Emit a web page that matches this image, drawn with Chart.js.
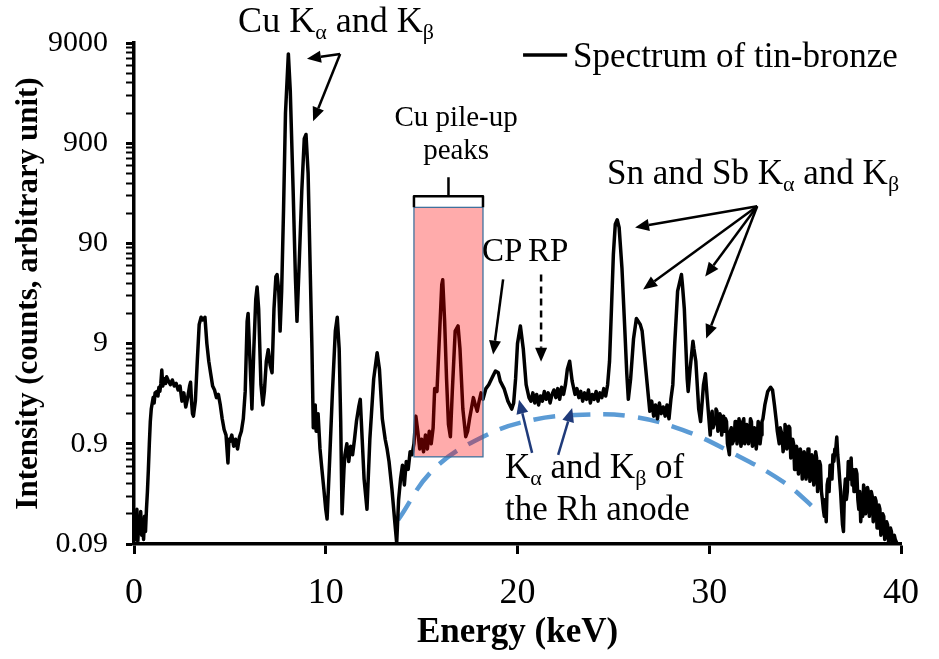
<!DOCTYPE html>
<html>
<head>
<meta charset="utf-8">
<script src="https://cdn.jsdelivr.net/npm/chart.js@4.4.1/dist/chart.umd.min.js"></script>
<style>
html,body{margin:0;padding:0;background:#fff;}
#wrap{width:939px;height:659px;}
</style>
</head>
<body>
<div id="wrap"><canvas id="c" width="939" height="659"></canvas></div>
<script>
// ---------------- DATA ----------------
// Spectrum, 0 – 29.9 keV
const energyLow = [
0.00,0.05,0.10,0.15,0.20,0.25,0.30,0.35,0.40,0.45,0.50,0.55,0.60,0.65,0.70,0.75,0.80,0.85,0.90,1.00,
1.05,1.10,1.20,1.25,1.30,1.35,1.40,1.45,1.50,1.60,1.65,1.70,1.80,1.90,2.00,2.10,2.20,2.30,2.40,2.50,
2.60,2.70,2.80,2.90,2.95,3.00,3.05,3.10,3.20,3.30,3.40,3.50,3.60,3.70,3.80,3.90,4.00,4.10,4.20,4.30,
4.40,4.50,4.60,4.70,4.80,4.90,4.95,5.00,5.10,5.20,5.30,5.40,5.50,5.60,5.70,5.80,5.90,5.95,6.05,6.15,
6.25,6.35,6.42,6.50,6.62,6.72,6.80,6.90,7.00,7.10,7.20,7.30,7.40,7.46,7.55,7.62,7.70,7.80,7.90,8.05,
8.15,8.30,8.42,8.50,8.62,8.75,8.88,8.97,9.08,9.20,9.28,9.35,9.45,9.50,9.60,9.70,9.80,9.90,10.00,10.07,
10.20,10.35,10.50,10.60,10.70,10.78,10.85,10.95,11.00,11.10,11.20,11.30,11.40,11.50,11.60,11.72,11.80,11.90,12.00,12.15,
12.30,12.50,12.68,12.80,12.95,13.10,13.20,13.30,13.45,13.60,13.70,13.80,13.90,14.00,14.10,14.20,14.30,14.40,14.50,14.60,
14.70,14.80,14.90,15.00,15.10,15.20,15.30,15.40,15.50,15.60,15.68,15.80,15.90,16.05,16.10,16.20,16.30,16.40,16.50,16.60,
16.75,16.90,17.00,17.15,17.30,17.40,17.50,17.70,17.80,17.90,18.00,18.10,18.20,18.35,18.50,18.70,18.85,19.00,19.10,19.30,
19.50,19.70,19.80,19.90,20.00,20.15,20.30,20.45,20.60,20.70,20.80,20.90,21.00,21.10,21.20,21.30,21.40,21.50,21.60,21.70,
21.80,21.90,22.00,22.10,22.20,22.30,22.40,22.50,22.60,22.72,22.85,23.00,23.10,23.20,23.30,23.40,23.50,23.60,23.70,23.80,
23.90,24.00,24.10,24.20,24.30,24.40,24.50,24.60,24.70,24.80,24.90,25.00,25.10,25.20,25.30,25.45,25.60,25.70,25.78,25.90,
26.05,26.20,26.40,26.50,26.65,26.80,26.90,27.00,27.10,27.20,27.30,27.40,27.50,27.60,27.70,27.80,27.90,28.00,28.10,28.20,
28.35,28.55,28.60,28.70,28.85,28.90,29.00,29.15,29.20,29.30,29.45,29.55,29.70,29.80,29.90
];
const countsLow = [
0.10,0.15,0.10,0.20,0.095,0.16,0.12,0.19,0.11,0.14,0.10,0.17,0.12,0.20,0.30,0.50,0.90,1.5,2.0,2.6,
2.3,2.9,3.0,2.7,3.3,3.0,3.6,4.9,3.4,4.0,3.6,4.2,3.8,3.5,3.9,3.4,3.6,3.1,3.4,2.4,
2.9,2.1,2.6,3.4,3.7,2.4,1.8,1.7,2.4,6.0,14,16.5,15.5,16.5,9.0,6.0,4.5,3.4,3.1,2.6,
2.8,2.2,1.6,1.25,1.1,0.58,1.0,0.95,1.1,0.85,1.0,0.8,1.05,1.2,1.6,3.0,15,18,6,2.0,
8,25,33,20,3.5,2.2,3.0,6.0,7.8,5.5,4.6,20,42,44,30,12,30,200,1800,7000,
3000,300,40,15,60,300,1000,1100,450,40,8,1.3,2.2,1.2,1.8,0.8,0.5,0.32,0.2,0.16,
0.6,3.0,12,16.5,8,1.5,0.18,0.5,0.7,0.9,0.6,0.85,0.7,1.0,1.5,2.1,2.5,1.0,0.4,0.2,
1.0,4.0,7.3,5.0,1.6,1.0,0.8,0.6,0.32,0.15,0.092,0.25,0.4,0.55,0.35,0.6,0.5,0.75,0.7,0.9,
1.7,1.2,0.8,1.0,0.75,1.1,0.8,1.2,0.9,1.3,3.2,3.0,8,35,39,15,4,1.4,1.06,3,
12,13.5,8,2,1.06,1.2,1.6,2.6,2.2,1.9,2.4,2.9,2.5,3.2,3.5,4.2,4.8,4.6,3.8,3.2,
2.4,2.0,2.3,4.0,9,13.5,8,3.5,2.6,2.4,2.9,2.3,2.8,2.2,2.7,2.4,3.0,2.5,2.9,2.3,
2.8,3.1,2.6,3.2,2.5,3.3,2.8,3.5,5.0,6.0,3.8,2.8,3.2,2.6,3.0,2.4,2.9,2.5,3.1,2.3,
2.8,2.5,3.0,2.4,2.9,2.6,3.2,2.7,3.5,6,20,70,140,155,130,50,12,4.5,2.5,4,
10,16,14,12,6,3.0,1.9,2.4,1.7,2.2,1.6,2.3,1.8,2.1,1.7,2.2,1.6,2.5,3.5,9,
30,44,35,20,4,3.0,5,9.5,8,6,2.0,1.5,3.5,4.5,2.5
];
// Spectrum, 30 – 40 keV (noisy tail)
const energyHigh = [
30.05,30.10,30.15,30.20,30.30,30.35,30.40,30.45,30.50,30.55,
30.60,30.65,30.70,30.75,30.80,30.85,30.90,30.95,31.00,31.05,
31.10,31.15,31.20,31.30,31.35,31.40,31.45,31.50,31.55,31.60,
31.65,31.70,31.75,31.80,31.85,31.90,31.95,32.00,32.05,32.10,
32.15,32.20,32.25,32.30,32.35,32.40,32.45,32.50,32.55,32.60,
32.65,32.70,32.75,32.80,32.90,33.05,33.20,33.30,33.40,33.50,
33.55,33.65,33.70,33.80,33.85,33.90,33.95,34.00,34.05,34.10,
34.15,34.20,34.25,34.30,34.35,34.40,34.45,34.50,34.55,34.60,
34.65,34.70,34.75,34.80,34.85,34.90,34.95,35.00,35.05,35.10,
35.15,35.20,35.25,35.30,35.35,35.40,35.45,35.50,35.55,35.60,
35.65,35.70,35.75,35.80,35.85,35.90,35.95,36.00,36.05,36.10,
36.15,36.20,36.25,36.30,36.35,36.40,36.45,36.50,36.55,36.60,
36.65,36.70,36.75,36.80,36.85,36.90,36.95,37.00,37.05,37.10,
37.15,37.20,37.25,37.30,37.35,37.40,37.45,37.50,37.55,37.60,
37.65,37.70,37.75,37.80,37.85,37.90,37.95,38.00,38.05,38.10,
38.15,38.20,38.25,38.30,38.35,38.40,38.45,38.50,38.55,38.60,
38.65,38.70,38.75,38.80,38.85,38.90,38.95,39.00,39.05,39.10,
39.15,39.20,39.25,39.30,39.35,39.40,39.45,39.50,39.55,39.60,
39.65,39.70,39.80
];
const countsHigh = [
1.1,1.6,1.9,1.3,1.5,2.0,1.9,1.2,1.3,1.8,
1.7,1.1,1.4,1.7,1.2,1.6,1.5,0.9,0.8,0.7,
1.2,1.3,0.9,1.0,1.5,1.5,0.9,1.1,1.6,1.4,
0.85,0.95,1.5,1.6,0.9,1.0,1.4,1.3,0.9,1.1,
1.6,1.5,0.85,0.9,1.3,1.2,0.8,1.0,1.5,1.4,
0.9,1.1,1.5,1.6,2.2,3.0,3.3,3.1,2.2,1.5,
1.2,0.9,1.3,1.1,0.75,0.85,1.4,1.3,0.8,1.0,
1.35,1.3,0.65,0.7,1.0,0.9,0.5,0.5,0.85,0.75,
0.45,0.55,0.8,0.7,0.4,0.45,0.75,0.65,0.4,0.5,
0.8,0.7,0.38,0.42,0.7,0.6,0.35,0.5,0.75,0.65,
0.3,0.38,0.6,0.55,0.3,0.25,0.2,0.17,0.25,0.15,
0.35,0.4,0.3,0.55,0.5,0.4,0.7,0.6,0.8,0.8,
1.05,0.7,0.55,0.4,0.3,0.2,0.14,0.12,0.3,0.4,
0.25,0.3,0.6,0.55,0.4,0.65,0.35,0.5,0.3,0.35,
0.5,0.45,0.25,0.2,0.3,0.15,0.22,0.17,0.35,0.3,
0.18,0.2,0.33,0.3,0.17,0.25,0.3,0.27,0.15,0.18,
0.26,0.24,0.13,0.15,0.22,0.2,0.11,0.13,0.18,0.17,
0.1,0.11,0.15,0.14,0.095,0.1,0.13,0.12,0.09,0.09,
0.11,0.10,0.09
];
// Bremsstrahlung background estimate (dashed blue curve)
const bgEnergy = [13.77, 15.6, 18.2, 20.8, 23.4, 26.0, 28.6, 31.2, 33.9, 35.7];
const bgCounts = [0.156, 0.495, 1.06, 1.56, 1.75, 1.68, 1.24, 0.73, 0.37, 0.188];

const xTicks = [0, 10, 20, 30, 40];
const yMajorTicks = [0.09, 0.9, 9, 90, 900, 9000];
const yTickLabels = ['0.09', '0.9', '9', '90', '900', '9000'];

const seriesLabel = 'Spectrum of tin-bronze';

// Pile-up region (energy range and count range of the shaded box)
const pileUpEnergy = [14.6, 18.2];
const pileUpCounts = [0.667, 206];

// ---------------- ANNOTATIONS (data coordinates) ----------------
const FONT = '"Liberation Serif", "Times New Roman", serif';
const textLabels = [
  {parts: [['Cu K'], ['α', 1], [' and K'], ['β', 1]], at: [5.43, 11600], size: 36},
  {parts: [['Cu pile-up']], at: [16.8, 1327], size: 29, align: 'center'},
  {parts: [['peaks']], at: [16.8, 623], size: 29, align: 'center'},
  {parts: [['Sn and Sb K'], ['α', 1], [' and K'], ['β', 1]], at: [24.67, 350], size: 35},
  {parts: [['CP']], at: [18.15, 59.5], size: 33},
  {parts: [['RP']], at: [20.55, 59.5], size: 33},
  {parts: [['K'], ['α', 1], [' and K'], ['β', 1], [' of']], at: [19.35, 0.412], size: 35},
  {parts: [['the Rh anode']], at: [19.35, 0.156], size: 35}
];
// arrows: [tailE, tailCount, headE, headCount]
const blackArrows = [
  [10.75, 7000, 9.02, 6260],
  [10.75, 7000, 9.34, 1493],
  [32.5, 211, 26.13, 130],
  [32.5, 211, 26.55, 31.2],
  [32.5, 211, 29.79, 42.0],
  [32.5, 211, 29.84, 10.1],
  [19.25, 39.3, 18.73, 6.99]
];
const dashedArrows = [[21.23, 44.1, 21.23, 5.94]];
const navyArrows = [
  [20.76, 0.731, 20.08, 2.48],
  [22.12, 0.698, 22.85, 2.05]
];
// bracket over pile-up box: [left, right, barCount, endCount, stemTopCount]
const bracket = [14.6, 18.2, 266, 206, 412];
// legend sample line: [E1, E2, count], text anchor [E, count]
const legendLine = [20.29, 22.59, 6830];
const legendText = [22.9, 5170];

// ---------------- DRAWING ----------------
function arrow(ctx, x1, y1, x2, y2, color, width, dash) {
  const ang = Math.atan2(y2 - y1, x2 - x1);
  const hl = 14, hw = 6;
  const bx = x2 - hl * Math.cos(ang), by = y2 - hl * Math.sin(ang);
  ctx.save();
  ctx.strokeStyle = color; ctx.fillStyle = color; ctx.lineWidth = width;
  ctx.setLineDash(dash || []);
  ctx.beginPath(); ctx.moveTo(x1, y1); ctx.lineTo(bx, by); ctx.stroke();
  ctx.setLineDash([]);
  ctx.beginPath();
  ctx.moveTo(x2, y2);
  ctx.lineTo(bx + hw * Math.sin(ang), by - hw * Math.cos(ang));
  ctx.lineTo(bx - hw * Math.sin(ang), by + hw * Math.cos(ang));
  ctx.closePath(); ctx.fill();
  ctx.restore();
}
function richText(ctx, parts, x, y, size, align) {
  const subSize = Math.round(size * 0.62);
  let total = 0;
  const widths = parts.map(p => {
    ctx.font = (p[1] ? subSize : size) + 'px ' + FONT;
    const w = ctx.measureText(p[0]).width; total += w; return w;
  });
  let cx = align === 'center' ? x - total / 2 : x;
  ctx.textBaseline = 'alphabetic'; ctx.textAlign = 'left'; ctx.fillStyle = '#000';
  parts.forEach((p, i) => {
    ctx.font = (p[1] ? subSize : size) + 'px ' + FONT;
    ctx.fillText(p[0], cx, p[1] ? y + size * 0.2 : y);
    cx += widths[i];
  });
}

const overlay = {
  id: 'overlay',
  afterDatasetsDraw(chart) {
    const ctx = chart.ctx;
    const X = v => chart.scales.x.getPixelForValue(v);
    const Y = v => chart.scales.y.getPixelForValue(v);
    // pile-up box
    const rx = X(pileUpEnergy[0]), rw = X(pileUpEnergy[1]) - rx;
    const ry = Y(pileUpCounts[1]), rh = Y(pileUpCounts[0]) - ry;
    ctx.save();
    ctx.fillStyle = 'rgba(255,0,0,0.33)';
    ctx.fillRect(rx, ry, rw, rh);
    ctx.strokeStyle = '#41719c'; ctx.lineWidth = 1.3;
    ctx.strokeRect(rx, ry, rw, rh);
    // bracket
    ctx.strokeStyle = '#000'; ctx.lineWidth = 2.5; ctx.lineJoin = 'round';
    ctx.beginPath();
    ctx.moveTo(X(bracket[0]), Y(bracket[3]));
    ctx.lineTo(X(bracket[0]), Y(bracket[2]));
    ctx.lineTo(X(bracket[1]), Y(bracket[2]));
    ctx.lineTo(X(bracket[1]), Y(bracket[3]));
    const mid = (bracket[0] + bracket[1]) / 2;
    ctx.moveTo(X(mid), Y(bracket[2]));
    ctx.lineTo(X(mid), Y(bracket[4]));
    ctx.stroke();
    ctx.restore();
    // arrows
    blackArrows.forEach(a => arrow(ctx, X(a[0]), Y(a[1]), X(a[2]), Y(a[3]), '#000', 2.5));
    dashedArrows.forEach(a => arrow(ctx, X(a[0]), Y(a[1]), X(a[2]), Y(a[3]), '#000', 2.5, [7, 5]));
    navyArrows.forEach(a => arrow(ctx, X(a[0]), Y(a[1]), X(a[2]), Y(a[3]), '#1f3a7a', 2.5));
    // texts
    textLabels.forEach(t => richText(ctx, t.parts, X(t.at[0]), Y(t.at[1]), t.size, t.align));
    // legend
    const ds = chart.data.datasets[0];
    ctx.save();
    ctx.strokeStyle = ds.borderColor; ctx.lineWidth = ds.borderWidth;
    ctx.beginPath();
    ctx.moveTo(X(legendLine[0]), Y(legendLine[2]));
    ctx.lineTo(X(legendLine[1]), Y(legendLine[2]));
    ctx.stroke();
    ctx.restore();
    richText(ctx, [[ds.label]], X(legendText[0]), Y(legendText[1]), 35);
  }
};

const energy = energyLow.concat(energyHigh);
const counts = countsLow.concat(countsHigh);

const chart = new Chart(document.getElementById('c'), {
  type: 'line',
  data: {
    datasets: [
      {
        label: seriesLabel,
        data: energy.map((e, i) => ({x: e, y: counts[i]})),
        borderColor: '#000', borderWidth: 3.5, pointRadius: 0, tension: 0,
        borderJoinStyle: 'round'
      },
      {
        label: 'Background',
        data: bgEnergy.map((e, i) => ({x: e, y: bgCounts[i]})),
        borderColor: '#5b9bd5', borderWidth: 4.5, borderDash: [22, 13],
        pointRadius: 0, tension: 0.4
      }
    ]
  },
  options: {
    responsive: false, animation: false, devicePixelRatio: 1,
    layout: {padding: {left: 0, right: 38, top: 43, bottom: 0}},
    plugins: {legend: {display: false}, tooltip: {enabled: false}},
    scales: {
      x: {
        type: 'linear', min: 0, max: 40,
        afterBuildTicks: s => { s.ticks = xTicks.map(v => ({value: v})); },
        afterFit: s => { s.height = 115; },
        ticks: {color: '#000', font: {family: FONT, size: 36}, padding: 18, maxRotation: 0},
        grid: {display: true, drawOnChartArea: false, drawTicks: true, tickLength: 10, tickWidth: 3, color: '#000'},
        border: {display: true, color: '#000', width: 3.5},
        title: {display: true, text: 'Energy (keV)', color: '#000',
                font: {family: FONT, size: 35, weight: 'bold'}, padding: {top: 0, bottom: 5}}
      },
      y: {
        type: 'logarithmic', min: 0.09, max: 9000,
        afterBuildTicks: s => {
          const t = [];
          yMajorTicks.forEach((m, k) => {
            t.push({value: m, major: true});
            if (k < yMajorTicks.length - 1) {
              for (let j = 2; j <= 9; j++) t.push({value: parseFloat((m * j).toPrecision(6)), major: false});
            }
          });
          s.ticks = t;
        },
        afterFit: s => { s.width = 134; },
        ticks: {
          color: '#000', font: {family: FONT, size: 30}, padding: 18, autoSkip: false,
          callback: (v) => {
            const i = yMajorTicks.findIndex(m => Math.abs(Math.log10(m / v)) < 1e-6);
            return i >= 0 ? yTickLabels[i] : '';
          }
        },
        grid: {display: true, drawOnChartArea: false, drawTicks: true, tickLength: 8, color: '#000',
               tickWidth: c => (c.tick && c.tick.major ? 3 : 2)},
        border: {display: true, color: '#000', width: 3.5},
        title: {display: true, text: 'Intensity (counts, arbitrary unit)', color: '#000',
                font: {family: FONT, size: 31, weight: 'bold'}, padding: {top: 10, bottom: 0}}
      }
    }
  },
  plugins: [overlay]
});
</script>
</body>
</html>
